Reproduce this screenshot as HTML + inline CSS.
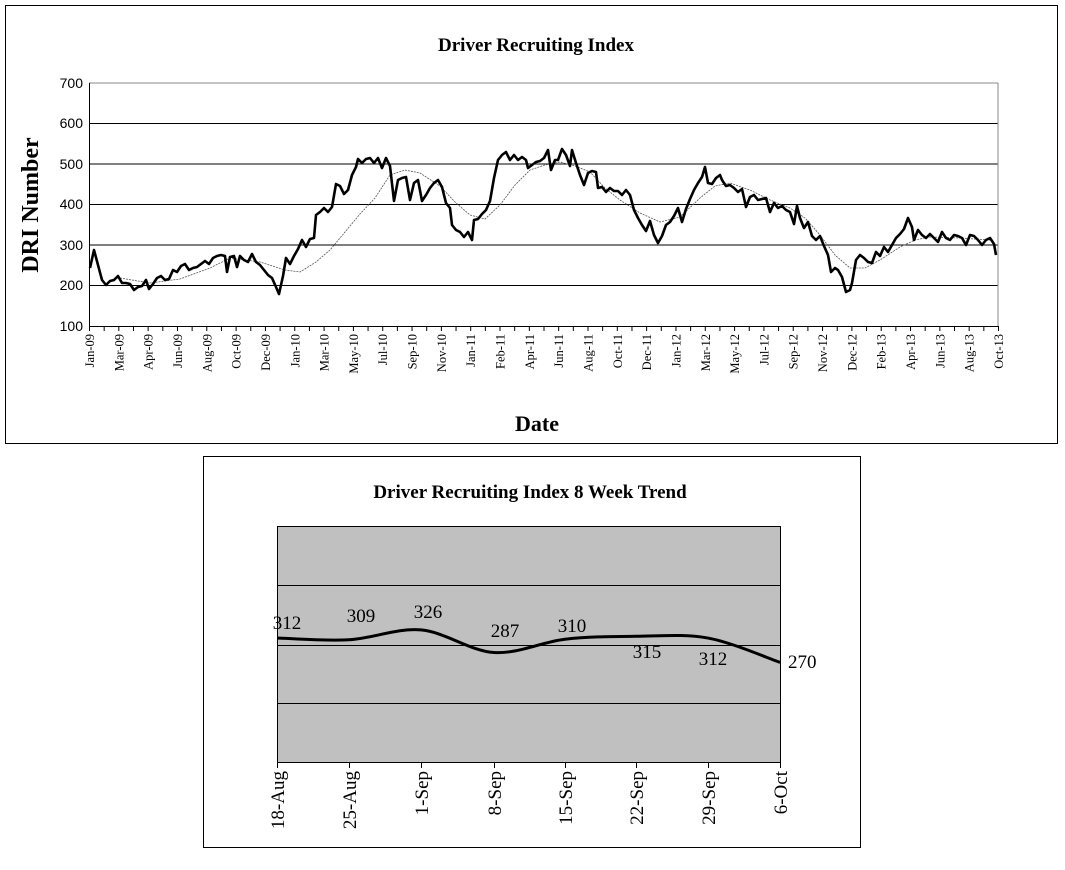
<!DOCTYPE html>
<html><head><meta charset="utf-8"><style>body{margin:0;background:#fff}svg{display:block}</style></head><body>
<svg width="1065" height="870" xmlns="http://www.w3.org/2000/svg" font-family="Liberation Serif, serif">
<rect x="5.5" y="5.5" width="1052" height="438" fill="#fff" stroke="#000"/>
<text x="536" y="51" text-anchor="middle" font-weight="bold" font-size="19">Driver Recruiting Index</text>
<g stroke="#000" stroke-width="1">
<line x1="89" y1="83" x2="998" y2="83" stroke="#888"/>
<line x1="89" y1="123.5" x2="998" y2="123.5"/><line x1="89" y1="164" x2="998" y2="164"/>
<line x1="89" y1="204.5" x2="998" y2="204.5"/><line x1="89" y1="245" x2="998" y2="245"/>
<line x1="89" y1="285.5" x2="998" y2="285.5"/>
<line x1="998" y1="83" x2="998" y2="326" stroke="#888"/>
<line x1="89.5" y1="83" x2="89.5" y2="326"/><line x1="89" y1="326.5" x2="998" y2="326.5"/>
</g>
<g font-family="Liberation Sans, sans-serif" font-size="14" text-anchor="end">
<text x="83" y="88">700</text><text x="83" y="128">600</text><text x="83" y="169">500</text><text x="83" y="209">400</text><text x="83" y="250">300</text><text x="83" y="290">200</text><text x="83" y="331">100</text>
</g>
<g id="ticks" stroke="#000"></g>
<g id="xl" font-size="12.5" text-anchor="end"></g>
<text transform="translate(38,205) rotate(-90)" text-anchor="middle" font-weight="bold" font-size="24">DRI Number</text>
<text x="537" y="431" text-anchor="middle" font-weight="bold" font-size="22">Date</text>
<polyline fill="none" stroke="#555" stroke-width="0.8" stroke-dasharray="2,1" points="120,278 150,283 180,279 210,268 230,258 260,262 285,270 300,272 316,262 330,250 345,232 360,214 375,198 390,175 405,170 420,173 440,186 455,202 470,215 485,219 500,205 515,185 530,170 545,165 560,162 575,166 590,172 605,188 620,200 640,213 660,222 680,217 700,198 715,186 730,183 750,190 770,200 790,208 805,218 820,235 835,255 850,268 865,268 880,260 900,247 915,240 930,237 960,238 990,240"/>
<polyline fill="none" stroke="#000" stroke-width="2.6" stroke-linejoin="round" points="90,268 94,250 98,265 102,280 106,285 110,281 114,280 118,276 122,283 126,283 130,284 134,290 138,287 142,286 146,280 149,289 153,284 157,278 161,276 165,280 169,279 173,270 177,272 181,266 185,264 189,270 193,268 197,267 201,264 205,261 209,264 213,258 217,256 221,255 225,256 227,272 230,257 234,256 237,267 240,256 244,260 248,262 252,254 256,262 260,265 264,270 268,275 272,278 276,287 279,294 283,276 286,258 290,264 294,256 298,249 302,240 306,247 310,239 314,238 316,215 320,212 324,208 328,212 332,207 336,184 340,186 344,194 348,190 352,175 356,167 358,159 362,163 366,159 370,158 374,163 378,158 382,168 386,158 390,166 394,201 398,180 402,178 406,177 410,200 414,183 418,180 422,201 426,195 430,188 434,183 438,180 442,187 446,203 450,208 452,225 456,230 460,232 464,237 468,232 472,240 474,220 478,219 482,214 486,210 490,201 494,178 498,160 502,155 506,152 510,160 514,155 518,160 522,157 526,160 528,168 532,165 536,162 540,161 544,158 548,150 551,170 555,160 558,160 562,149 566,155 570,166 572,150 576,163 580,175 584,185 588,173 592,171 596,172 598,188 602,187 606,192 610,188 614,191 618,191 622,195 626,190 630,195 634,210 638,218 642,225 646,231 650,221 654,235 658,243 662,236 666,225 670,222 674,216 678,208 682,222 686,209 690,199 694,190 698,183 702,177 705,167 708,183 712,184 716,178 720,175 722,180 726,186 730,185 734,188 738,192 742,189 746,207 750,197 754,195 758,200 762,199 766,198 770,212 774,203 778,208 782,206 786,210 790,212 794,224 797,206 800,218 804,228 808,222 812,236 816,240 820,236 824,246 828,255 831,272 835,268 838,270 842,277 846,292 850,290 852,283 856,260 860,255 864,258 868,262 872,263 876,252 880,256 884,247 888,252 892,245 896,238 900,234 904,229 908,218 912,227 914,240 918,230 922,235 926,238 930,234 934,238 938,242 942,232 946,238 950,240 954,235 958,236 962,238 966,245 970,235 974,236 978,240 982,245 986,240 990,238 994,244 996,255"/>

<rect x="203.5" y="456.5" width="657" height="391" fill="#fff" stroke="#000"/>
<text x="530" y="498" text-anchor="middle" font-weight="bold" font-size="19">Driver Recruiting Index 8 Week Trend</text>
<rect x="277.5" y="526.5" width="503" height="236" fill="#c0c0c0" stroke="#000"/>
<g stroke="#000"><line x1="277" y1="585.5" x2="780" y2="585.5"/><line x1="277" y1="645.5" x2="780" y2="645.5"/><line x1="277" y1="703.5" x2="780" y2="703.5"/></g>
<g id="bt" stroke="#000"></g>
<path id="trend" fill="none" stroke="#000" stroke-width="3"/>
<g font-size="19">
<text x="287" y="629" text-anchor="middle">312</text><text x="361" y="622" text-anchor="middle">309</text><text x="428" y="618" text-anchor="middle">326</text><text x="505" y="637" text-anchor="middle">287</text><text x="572" y="632" text-anchor="middle">310</text><text x="647" y="658" text-anchor="middle">315</text><text x="713" y="665" text-anchor="middle">312</text><text x="788" y="668">270</text>
</g>
<g id="bl" font-size="19" text-anchor="end"></g>
</svg>
<script>
var ns="http://www.w3.org/2000/svg";
var t=document.getElementById("ticks"),xl=document.getElementById("xl");
var labs="Jan-09,Mar-09,Apr-09,Jun-09,Aug-09,Oct-09,Dec-09,Jan-10,Mar-10,May-10,Jul-10,Sep-10,Nov-10,Jan-11,Feb-11,Apr-11,Jun-11,Aug-11,Oct-11,Dec-11,Jan-12,Mar-12,May-12,Jul-12,Sep-12,Nov-12,Dec-12,Feb-13,Apr-13,Jun-13,Aug-13,Oct-13".split(",");
for(var i=0;i<=62;i++){var x=89.5+i*909/62;var l=document.createElementNS(ns,"line");l.setAttribute("x1",x);l.setAttribute("x2",x);l.setAttribute("y1",326);l.setAttribute("y2",331);t.appendChild(l);
if(i%2==0){var tx=document.createElementNS(ns,"text");tx.setAttribute("transform","translate("+(x+4.5)+",334) rotate(-90)");tx.textContent=labs[i/2];xl.appendChild(tx);}}
var xs=[277,349,421,494,565,636,708,780],vs=[312,309,326,287,310,315,312,270];
var bl=document.getElementById("bl"),bt=document.getElementById("bt");
var bn="18-Aug,25-Aug,1-Sep,8-Sep,15-Sep,22-Sep,29-Sep,6-Oct".split(",");
var P=xs.map(function(x,i){return [x,645-(vs[i]-300)*0.58];});
var d="M"+P[0];
for(var i=0;i<P.length-1;i++){var p0=P[Math.max(i-1,0)],p1=P[i],p2=P[i+1],p3=P[Math.min(i+2,P.length-1)];
d+=" C"+(p1[0]+(p2[0]-p0[0])/6)+","+(p1[1]+(p2[1]-p0[1])/6)+" "+(p2[0]-(p3[0]-p1[0])/6)+","+(p2[1]-(p3[1]-p1[1])/6)+" "+p2[0]+","+p2[1];}
document.getElementById("trend").setAttribute("d",d);
xs.forEach(function(x,i){var l=document.createElementNS(ns,"line");l.setAttribute("x1",x+.5);l.setAttribute("x2",x+.5);l.setAttribute("y1",762);l.setAttribute("y2",768);bt.appendChild(l);
var tx=document.createElementNS(ns,"text");tx.setAttribute("transform","translate("+(x+7)+",771) rotate(-90)");tx.textContent=bn[i];bl.appendChild(tx);});
</script>
</body></html>
